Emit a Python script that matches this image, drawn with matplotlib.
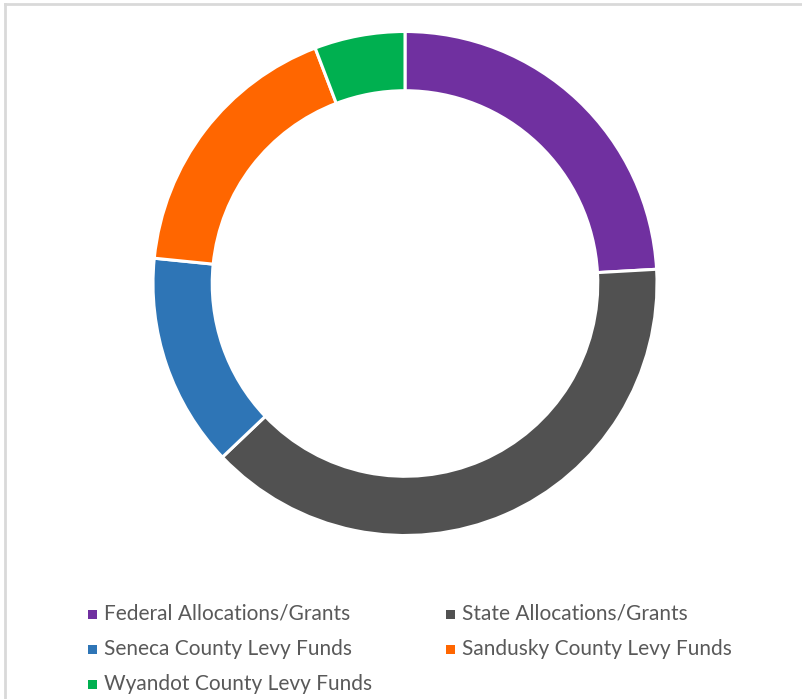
import matplotlib.pyplot as plt
from matplotlib.patches import Rectangle
from matplotlib.lines import Line2D

# funding sources (percent share, read from the ring)
labels = [
    "Federal Allocations/Grants",
    "State Allocations/Grants",
    "Seneca County Levy Funds",
    "Sandusky County Levy Funds",
    "Wyandot County Levy Funds",
]
shares = [24.1, 38.8, 13.7, 17.6, 5.8]
colors = ["#7030A0", "#515151", "#2E75B6", "#FF6600", "#00B050"]

W, H = 802, 699
fig = plt.figure(figsize=(W / 100, H / 100), dpi=100)
fig.patch.set_facecolor("white")

# ring placement in pixels
cx, cy, r = 405, 283.5, 252
ax = fig.add_axes([(cx - r) / W, (H - cy - r) / H, 2 * r / W, 2 * r / H])
ax.pie(
    shares,
    colors=colors,
    startangle=90,
    counterclock=False,
    radius=1.0,
    wedgeprops=dict(width=0.235, edgecolor="white", linewidth=2.2),
)
ax.set_xlim(-1, 1)
ax.set_ylim(-1, 1)
ax.set_aspect("auto")
ax.axis("off")

# legend, laid out row by row in two columns
col_x = [88, 446]
row_y = [614, 649, 684]
for i, (label, color) in enumerate(zip(labels, colors)):
    x = col_x[i % 2]
    y = row_y[i // 2]
    fig.add_artist(Rectangle((x / W, (H - y - 4.5) / H), 9 / W, 9 / H,
                             transform=fig.transFigure, color=color, lw=0))
    fig.text((x + 16) / W, (H - y) / H, label, fontsize=15, family="Lato",
             color="#595959", va="center", ha="left")

# light frame on top and left edges
fig.add_artist(Line2D([5 / W, 1], [1 - 4 / H, 1 - 4 / H], transform=fig.transFigure,
                      color="#d9d9d9", lw=2))
fig.add_artist(Line2D([5 / W, 5 / W], [0, 1 - 4 / H], transform=fig.transFigure,
                      color="#d9d9d9", lw=2))

fig.savefig("out.png", dpi=100)
